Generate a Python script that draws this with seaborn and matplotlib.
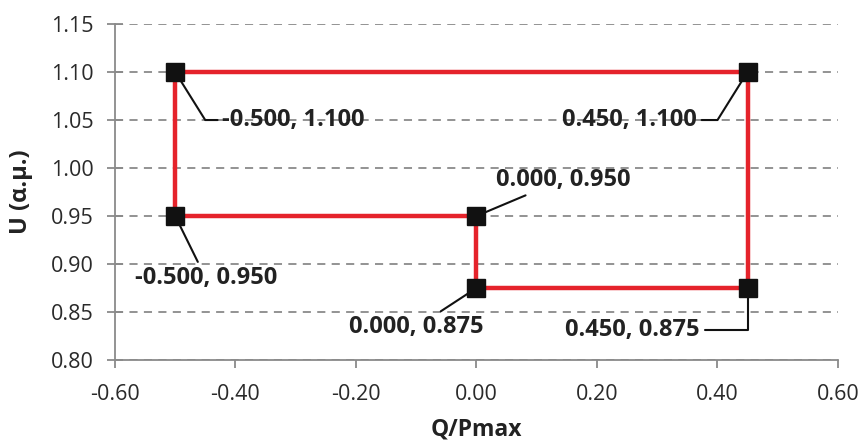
import numpy as np
import pandas as pd
import matplotlib
matplotlib.use('Agg')
import matplotlib.pyplot as plt
import seaborn as sns

# path of the curve (closed loop)
q_vals = [-0.500, 0.450, 0.450, 0.000, 0.000, -0.500, -0.500]
u_vals = [1.100, 1.100, 0.875, 0.875, 0.950, 0.950, 1.100]

x_ticks = [-0.60, -0.40, -0.20, 0.00, 0.20, 0.40, 0.60]
y_ticks = [0.80, 0.85, 0.90, 0.95, 1.00, 1.05, 1.10, 1.15]

# labelled points and where their text sits
label_pts = [(-0.500, 1.100), (0.450, 1.100), (0.000, 0.950),
             (-0.500, 0.950), (0.000, 0.875), (0.450, 0.875)]
label_pos = [(-0.422, 1.050), (0.366, 1.050), (0.144, 0.988),
             (-0.449, 0.885), (-0.100, 0.834), (0.371, 0.831)]

sns.set_theme(style='white')
plt.rcParams['font.family'] = ['Open Sans', 'DejaVu Sans']

df = pd.DataFrame({'Q': q_vals, 'U': u_vals})

fig = plt.figure(figsize=(8.62, 4.45), dpi=100)
ax = fig.add_axes([0.1334, 0.191, 0.8386, 0.755])

red = '#e5232b'
sns.lineplot(data=df, x='Q', y='U', sort=False, estimator=None, color=red,
             lw=3.2, ax=ax, zorder=5)
ax.plot(df['Q'][:-1], df['U'][:-1], ls='none', marker='s', ms=13,
        mfc='#111111', mec='#111111', zorder=6)

ax.set_xlim(-0.6, 0.6)
ax.set_ylim(0.8, 1.15)
ax.set_xticks(x_ticks)
ax.set_yticks(y_ticks)
ax.set_xticklabels([f'{v:.2f}' for v in x_ticks])
ax.set_yticklabels([f'{v:.2f}' for v in y_ticks])

grey = '#8a8a8a'
ax.yaxis.grid(True, color=grey, lw=1.3, ls=(0, (4.5, 3.5)), zorder=0)
ax.xaxis.grid(False)
for s in ['top', 'right']:
    ax.spines[s].set_visible(False)
for s in ['left', 'bottom']:
    ax.spines[s].set_color(grey)
    ax.spines[s].set_linewidth(1.3)
ax.tick_params(axis='y', direction='inout', length=11, width=1.3, color=grey,
               labelsize=15.5, labelcolor='#2a2a2a', pad=10, left=True)
ax.tick_params(axis='x', direction='out', length=6, width=1.3, color=grey,
               labelsize=15.5, labelcolor='#2a2a2a', pad=11, bottom=True)

ax.set_xlabel('Q/Pmax', fontsize=16.5, fontweight='bold', color='#222222')
ax.set_ylabel('U (α.μ.)', fontsize=17, fontweight='bold', color='#222222')
ax.xaxis.set_label_coords(0.5, -0.172)
ax.yaxis.set_label_coords(-0.113, 0.5)

# annotation styles: alignment, relpos and connection
styles = [
    ('left', (0, 0.5), 'angle,angleA=0,angleB=-58,rad=0'),
    ('right', (1, 0.5), 'angle,angleA=0,angleB=58,rad=0'),
    ('center', (0.5, 0.5), 'arc3'),
    ('center', (0.5, 0.5), 'arc3'),
    ('center', (0.5, 0.5), 'arc3'),
    ('right', (1, 0.5), 'angle,angleA=0,angleB=90,rad=0'),
]
for (px, py), (tx, ty), (ha, rp, cs) in zip(label_pts, label_pos, styles):
    ax.annotate(f'{px:.3f}, {py:.3f}', xy=(px, py), xytext=(tx, ty),
                ha=ha, va='center', fontsize=17, fontweight='bold', color='#222222',
                arrowprops=dict(arrowstyle='-', color='#111111', lw=1.5,
                                relpos=rp, connectionstyle=cs,
                                shrinkA=1, shrinkB=0),
                zorder=4)

fig.savefig('out.png', dpi=100)
